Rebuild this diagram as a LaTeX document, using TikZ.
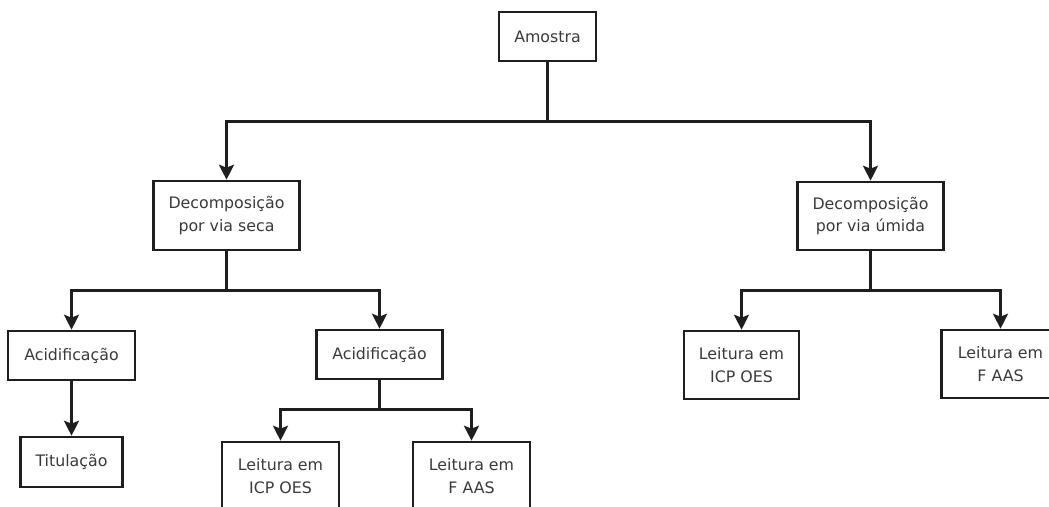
\documentclass[tikz,border=0pt]{standalone}
\usepackage{fontspec}
\setmainfont{DejaVu Sans}
\usetikzlibrary{arrows.meta}
\definecolor{linec}{HTML}{1E1E1E}
\definecolor{textc}{HTML}{3A3A3A}
\tikzset{
  box/.style={draw=linec, line width=2.6pt, fill=white, inner sep=0pt, align=center,
    text=textc, font=\fontsize{15.8}{22.7}\selectfont},
  conn/.style={draw=linec, line width=2.3pt, line join=miter},
  arr/.style={conn, -{Stealth[length=15pt, width=15pt, inset=3pt]}}
}
\begin{document}
\begin{tikzpicture}[x=1pt, y=-1pt]
\clip (0,0) rectangle (1049,506);
\fill[white] (0,0) rectangle (1049,506);
% nodes
\node[box, minimum width=97pt, minimum height=49pt] (amostra) at (547.5,36.5) {Amostra};
\node[box, minimum width=146pt, minimum height=69pt] (seca) at (226.5,215.5) {Decomposição\\por via seca};
\node[box, minimum width=146pt, minimum height=68pt] (umida) at (870.5,216) {Decomposição\\por via úmida};
\node[box, minimum width=127pt, minimum height=49pt] (acidL) at (71.5,355.5) {Acidificação};
\node[box, minimum width=102pt, minimum height=50pt] (titul) at (71.5,462) {Titulação};
\node[box, minimum width=126pt, minimum height=49pt] (acidR) at (379.5,354.5) {Acidificação};
\node[box, minimum width=117pt, minimum height=68pt] (icpL) at (280.5,476) {Leitura em\\ICP OES};
\node[box, minimum width=117pt, minimum height=68pt] (faasL) at (471.5,476) {Leitura em\\F AAS};
\node[box, minimum width=115pt, minimum height=68pt] (icpR) at (741.5,365) {Leitura em\\ICP OES};
\node[box, minimum width=118pt, minimum height=68pt] (faasR) at (1000.5,364) {Leitura em\\F AAS};
% junctions
\coordinate (j1) at (547.5,121.5);
\coordinate (j2) at (226.5,290.5);
\coordinate (j3) at (870.5,290.5);
\coordinate (j4) at (379.5,409.5);
% connectors
\draw[conn] (amostra.south) -- (j1);
\draw[arr] (j1) -| (seca.north);
\draw[arr] (j1) -| (umida.north);
\draw[conn] (seca.south) -- (j2);
\draw[arr] (j2) -| (acidL.north);
\draw[arr] (j2) -| (acidR.north);
\draw[arr] (acidL.south) -- (titul.north);
\draw[conn] (acidR.south) -- (j4);
\draw[arr] (j4) -| (icpL.north);
\draw[arr] (j4) -| (faasL.north);
\draw[conn] (umida.south) -- (j3);
\draw[arr] (j3) -| (icpR.north);
\draw[arr] (j3) -| (faasR.north);
\end{tikzpicture}
\end{document}
